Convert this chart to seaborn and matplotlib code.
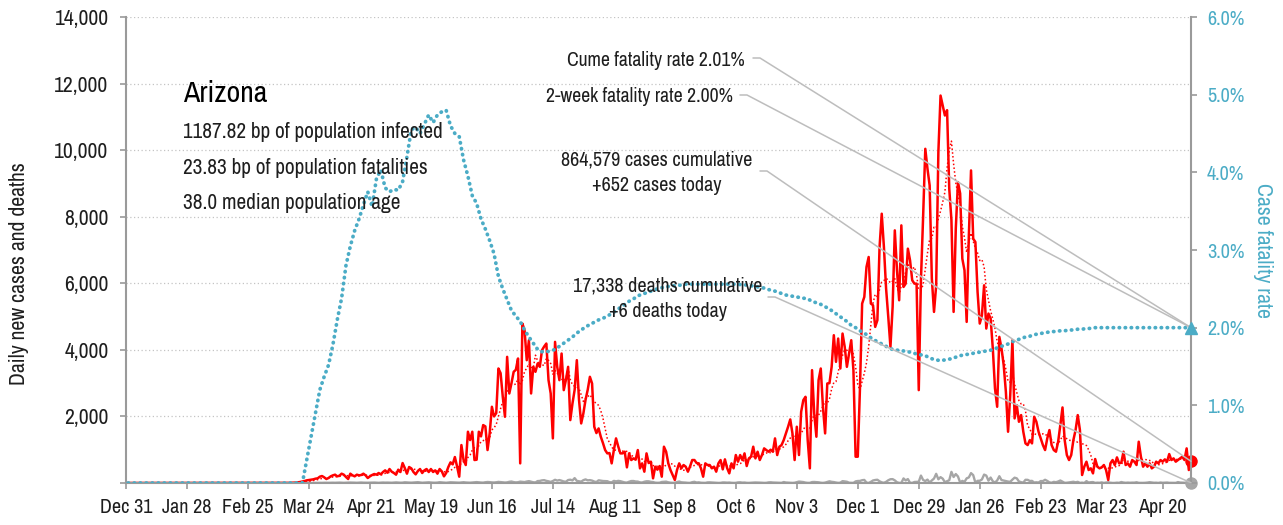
import matplotlib
matplotlib.use("Agg")
import matplotlib.pyplot as plt
import matplotlib.dates as mdates
import matplotlib.ticker as mticker
import pandas as pd
import seaborn as sns

# daily new cases, one list per month (Dec 31 2019 .. May 3 2021)
cases_2019_12 = [0]
cases_2020_01 = [0] * 31
cases_2020_02 = [0] * 29
cases_2020_03 = [0] * 14 + [3, 5, 8, 12, 20, 30, 45, 60, 80, 90,
                            100, 110, 130, 140, 190, 210, 170]
cases_2020_04 = [120, 150, 200, 230, 250, 200, 220, 280, 250, 180,
                 120, 280, 230, 200, 250, 230, 240, 280, 230, 150,
                 200, 240, 270, 250, 300, 260, 330, 380, 310, 420]
cases_2020_05 = [340, 300, 250, 400, 330, 600, 450, 280, 480, 440,
                 330, 260, 360, 420, 300, 380, 420, 330, 420, 330,
                 380, 280, 420, 350, 200, 300, 480, 620, 560, 780, 500]
cases_2020_06 = [190, 1140, 690, 540, 1540, 1290, 1540, 690, 700, 1540,
                 1400, 1740, 1700, 990, 1500, 2290, 2000, 2100, 3440, 3300,
                 2590, 1990, 3790, 2690, 3000, 3340, 3400, 3740, 590, 4790]
cases_2020_07 = [4590, 3690, 4290, 2690, 3490, 3340, 3590, 3490, 3990, 4100,
                 4190, 3090, 2690, 1340, 4240, 3490, 3090, 3890, 2790, 3100,
                 3490, 1890, 2390, 2800, 3690, 2500, 1790, 2090, 2500, 2800, 3190]
cases_2020_08 = [2990, 1690, 1500, 1640, 1390, 1200, 990, 890, 900, 590,
                 990, 1340, 1100, 890, 890, 940, 470, 890, 690, 740,
                 700, 990, 440, 590, 340, 890, 600, 640, 140, 490, 400]
cases_2020_09 = [510, 190, 1090, 940, 590, 390, 240, 90, 390, 590,
                 440, 540, 490, 340, 500, 690, 690, 600, 590, 440,
                 190, 590, 540, 540, 440, 490, 340, 590, 690, 410]
cases_2020_10 = [710, 450, 290, 590, 440, 840, 640, 840, 690, 890,
                 510, 740, 790, 1090, 740, 940, 690, 840, 1040, 990,
                 940, 1000, 940, 1340, 840, 1090, 1140, 1290, 1490, 1690, 1910]
cases_2020_11 = [1490, 690, 1690, 840, 2140, 2490, 2590, 1290, 440, 3390,
                 2090, 1390, 3090, 3440, 2290, 1490, 2990, 3000, 3490, 4440,
                 3640, 4340, 3440, 4490, 4090, 3490, 3890, 4290, 3390, 790]
cases_2020_12 = [790, 2840, 5390, 5590, 6490, 6790, 5390, 5340, 4690, 4890,
                 7090, 8090, 7090, 5840, 4990, 4090, 5290, 7590, 6390, 5490,
                 7740, 5890, 5990, 7040, 6690, 6090, 5990, 5990, 2790, 6090, 8000]
cases_2021_01 = [10040, 9440, 8940, 6140, 5140, 5940, 9940, 11640, 11340, 11040,
                 11200, 8840, 7900, 5140, 7640, 9040, 8700, 6740, 6390, 4840,
                 7440, 9390, 7340, 7240, 5740, 4790, 5040, 5940, 4640, 5090, 4940]
cases_2021_02 = [4040, 2840, 2290, 4390, 4040, 3540, 2740, 1540, 2640, 4290,
                 1940, 2340, 1840, 2040, 1540, 1190, 1140, 1290, 1190, 1990,
                 1840, 1540, 1340, 1140, 990, 1340, 1590, 1140]
cases_2021_03 = [990, 940, 1240, 1740, 2270, 1290, 840, 690, 840, 1290,
                 1590, 2040, 1590, 240, 490, 640, 390, 440, 290, 720,
                 490, 440, 470, 540, 390, 90, 590, 690, 540, 770, 590]
cases_2021_04 = [610, 940, 540, 590, 490, 690, 640, 540, 1240, 790,
                 490, 590, 490, 590, 440, 490, 640, 590, 690, 640,
                 710, 640, 870, 690, 740, 640, 690, 740, 790, 690]
cases_2021_05 = [1040, 390, 652]

# daily deaths
deaths_2020_early = [0] * 61
deaths_2020_03 = [0] * 14 + [0, 0, 0, 0, 0, 1, 0, 1, 2, 2, 3, 2, 4, 3, 5, 4, 7]
deaths_2020_04 = [5, 6, 8, 9, 7, 10, 12, 8, 6, 9, 11, 14, 13, 10, 7,
                  12, 15, 10, 9, 8, 11, 16, 14, 9, 6, 12, 15, 11, 13, 10]
deaths_2020_05 = [8, 14, 18, 12, 9, 11, 22, 16, 13, 10, 14, 20, 25, 17, 8, 12,
                  19, 21, 15, 10, 9, 13, 24, 18, 11, 7, 16, 22, 19, 14, 12]
deaths_2020_06 = [10, 18, 24, 16, 12, 9, 15, 20, 27, 19, 14, 11, 23, 30, 26,
                  18, 15, 22, 33, 28, 21, 14, 19, 36, 44, 27, 18, 24, 41, 34]
deaths_2020_07 = [28, 44, 56, 39, 22, 17, 58, 62, 79, 85, 64, 51, 32, 60, 97, 72,
                  88, 69, 45, 38, 89, 99, 78, 147, 64, 52, 41, 85, 108, 79, 86]
deaths_2020_08 = [72, 43, 29, 81, 71, 60, 58, 54, 26, 18, 64, 48, 64, 54, 35, 17,
                  12, 38, 59, 60, 45, 42, 19, 14, 38, 51, 50, 34, 28, 10, 6]
deaths_2020_09 = [8, 31, 35, 41, 20, 9, 4, 6, 28, 44, 21, 17, 12, 5, 3,
                  25, 36, 14, 20, 8, 4, 3, 18, 20, 16, 12, 9, 2, 4, 17]
deaths_2020_10 = [16, 10, 14, 6, 2, 4, 18, 21, 11, 14, 5, 3, 6, 12, 16, 14,
                  11, 8, 3, 5, 18, 22, 15, 12, 7, 4, 4, 29, 15, 12, 9]
deaths_2020_11 = [3, 8, 25, 43, 35, 28, 12, 4, 4, 28, 31, 25, 21, 8, 3,
                  12, 32, 51, 35, 28, 14, 4, 10, 56, 46, 38, 8, 6, 3, 48]
deaths_2020_12 = [60, 62, 84, 92, 13, 1, 34, 76, 90, 98, 51, 20, 7, 35, 82, 113,
                  116, 79, 22, 3, 4, 137, 77, 118, 7, 3, 30, 33, 38, 223, 92]
deaths_2021_01 = [58, 102, 12, 77, 134, 276, 111, 176, 131, 24, 53, 84, 335, 180, 269, 196,
                  17, 63, 35, 140, 168, 297, 237, 10, 65, 66, 106, 253, 223, 70, 164]
deaths_2021_02 = [52, 16, 75, 204, 88, 72, 58, 43, 36, 102, 160, 140, 46, 25,
                  12, 96, 95, 60, 64, 13, 22, 13, 59, 57, 97, 63, 19, 8]
deaths_2021_03 = [34, 24, 45, 75, 39, 5, 8, 19, 27, 37, 21, 35, 3, 11, 0, 56,
                  13, 24, 28, 3, 10, 6, 18, 2, 14, 19, 8, 1, 2, 10, 5]
deaths_2021_04 = [29, 14, 6, 12, 7, 11, 10, 23, 4, 3, 3, 6, 13, 24, 14,
                  7, 9, 2, 15, 6, 10, 14, 5, 4, 6, 3, 27, 13, 10, 9]
deaths_2021_05 = [4, 2, 6]

# cumulative case fatality rate (%), every second day from Jan 1 2020
cfr_2020_q1 = [0.0] * 41
cfr_2020_spring = [0.3, 0.6, 0.9, 1.2, 1.37, 1.52, 1.78, 2.1, 2.38, 2.8,
                   3.05, 3.25, 3.4, 3.58, 3.75, 3.56, 3.92, 4.03, 3.8, 3.75,
                   3.78, 3.77, 3.88, 4.2, 4.55, 4.58, 4.5, 4.62, 4.74, 4.64,
                   4.74, 4.78, 4.8, 4.6, 4.5, 4.46, 4.16, 3.95, 3.7, 3.6]
cfr_2020_summer = [3.4, 3.27, 3.12, 2.95, 2.66, 2.5, 2.36, 2.22, 2.15, 2.08,
                   1.97, 1.88, 1.8, 1.72, 1.69, 1.69, 1.7, 1.72, 1.76, 1.8,
                   1.84, 1.88, 1.93, 1.97, 2.01, 2.04, 2.07, 2.1, 2.12, 2.15,
                   2.18, 2.22, 2.26, 2.3, 2.34, 2.37, 2.41, 2.43, 2.45, 2.47]
cfr_2020_autumn = [2.49, 2.51, 2.52, 2.53, 2.54, 2.54, 2.55, 2.56, 2.56, 2.56,
                   2.56, 2.56, 2.56, 2.56, 2.56, 2.56, 2.56, 2.56, 2.56, 2.56,
                   2.55, 2.55, 2.54, 2.53, 2.52, 2.51, 2.49, 2.48, 2.46, 2.44,
                   2.42, 2.41, 2.4, 2.39, 2.38, 2.37, 2.34, 2.32, 2.3, 2.27]
cfr_2020_winter = [2.24, 2.2, 2.16, 2.12, 2.08, 2.03, 2.0, 1.96, 1.93, 1.89,
                   1.85, 1.82, 1.79, 1.76, 1.73, 1.71, 1.71, 1.7, 1.69, 1.68,
                   1.66, 1.65, 1.64, 1.61, 1.59, 1.58, 1.58, 1.59, 1.6, 1.62,
                   1.64, 1.65, 1.66, 1.67, 1.68, 1.69, 1.7, 1.71, 1.73, 1.75]
cfr_2021 = [1.77, 1.79, 1.82, 1.84, 1.86, 1.88, 1.89, 1.91, 1.92, 1.93,
            1.94, 1.95, 1.95, 1.96, 1.96, 1.97, 1.97, 1.98, 1.98, 1.99,
            1.99, 2.0, 2.0, 2.0, 2.0, 2.0, 2.0, 2.0, 2.0, 2.0,
            2.0, 2.0, 2.0, 2.0, 2.0, 2.0, 2.0, 2.0, 2.0, 2.0,
            2.0, 2.0, 2.0, 2.0]

state = "Arizona"
info_lines = ["1187.82 bp of population infected",
              "23.83 bp of population fatalities",
              "38.0 median population age"]
cume_label = "Cume fatality rate 2.01%"
week_label = "2-week fatality rate 2.00%"
cases_label = ["864,579 cases cumulative", "+652 cases today"]
deaths_label = ["17,338 deaths cumulative", "+6 deaths today"]

cases = (cases_2019_12 + cases_2020_01 + cases_2020_02 + cases_2020_03 + cases_2020_04
         + cases_2020_05 + cases_2020_06 + cases_2020_07 + cases_2020_08 + cases_2020_09
         + cases_2020_10 + cases_2020_11 + cases_2020_12 + cases_2021_01 + cases_2021_02
         + cases_2021_03 + cases_2021_04 + cases_2021_05)
deaths = (deaths_2020_early + deaths_2020_03 + deaths_2020_04 + deaths_2020_05
          + deaths_2020_06 + deaths_2020_07 + deaths_2020_08 + deaths_2020_09
          + deaths_2020_10 + deaths_2020_11 + deaths_2020_12 + deaths_2021_01
          + deaths_2021_02 + deaths_2021_03 + deaths_2021_04 + deaths_2021_05)
cfr = cfr_2020_q1 + cfr_2020_spring + cfr_2020_summer + cfr_2020_autumn + cfr_2020_winter + cfr_2021

df = pd.DataFrame({"date": pd.date_range("2019-12-31", periods=len(cases), freq="D"),
                   "cases": cases, "deaths": deaths})
df["cases_avg"] = df["cases"].rolling(7, min_periods=1).mean()
rate = pd.DataFrame({"date": pd.date_range("2020-01-01", periods=len(cfr), freq="2D"),
                     "cfr": cfr})

RED = "#ff0000"
TEAL = "#4bacc6"
GREY = "#a6a6a6"
AXIS = "#9a9a9a"
INK = "#1e1e1e"
LEAD = "#bdbdbd"
FS = 14.5

sns.set_style("ticks")
plt.rcParams["font.family"] = ["Archivo Narrow", "DejaVu Sans"]
plt.rcParams["font.size"] = FS

W, H = 1283, 525
fig = plt.figure(figsize=(W / 100, H / 100), dpi=100)
ax = fig.add_axes([126 / W, 42 / H, 1065 / W, 466 / H])
ax2 = ax.twinx()

sns.lineplot(data=df, x="date", y="deaths", ax=ax, color=GREY, lw=1.7, estimator=None)
sns.lineplot(data=df, x="date", y="cases", ax=ax, color=RED, lw=1.8, estimator=None)
sns.lineplot(data=df, x="date", y="cases_avg", ax=ax, color=RED, lw=1.1,
             linestyle=(0, (1, 1.5)), estimator=None)
sns.lineplot(data=rate, x="date", y="cfr", ax=ax2, color=TEAL, lw=2.7,
             linestyle=(0, (0.1, 1.5)), dash_capstyle="round", estimator=None)

last = df.iloc[-1]
ax.plot(last["date"], last["cases"], "o", color=RED, ms=8, clip_on=False, zorder=6)
ax.plot(last["date"], last["deaths"], "o", color=GREY, ms=8, clip_on=False, zorder=6)
ax2.plot(rate["date"].iloc[-1], rate["cfr"].iloc[-1], "^", color=TEAL, ms=9,
         clip_on=False, zorder=6)

ax.set_xlim(df["date"].iloc[0], df["date"].iloc[-1])
ax.set_ylim(0, 14000)
ax2.set_ylim(0, 6)

ax.set_xticks(pd.date_range(df["date"].iloc[0], df["date"].iloc[-1], freq="28D"))
ax.xaxis.set_major_formatter(mticker.FuncFormatter(
    lambda v, p: "{0:%b} {0.day}".format(mdates.num2date(v))))
ax.set_yticks(range(0, 14001, 2000))
ax.yaxis.set_major_formatter(mticker.FuncFormatter(lambda v, p: "" if v == 0 else f"{v:,.0f}"))
ax2.set_yticks(range(0, 7))
ax2.yaxis.set_major_formatter(mticker.FuncFormatter(lambda v, p: f"{v:.1f}%"))

for s in ("top", "right"):
    ax.spines[s].set_visible(False)
for s in ("top", "left", "bottom"):
    ax2.spines[s].set_visible(False)
for sp in (ax.spines["left"], ax.spines["bottom"], ax2.spines["right"]):
    sp.set_color(AXIS)
    sp.set_linewidth(1.5)

ax.tick_params(axis="both", direction="out", length=4.5, width=1.2, color=AXIS,
               labelcolor=INK, labelsize=FS)
ax.tick_params(axis="x", pad=6)
ax.tick_params(axis="y", pad=8, labelsize=15.5)
ax2.tick_params(axis="y", direction="out", length=4.5, width=1.2, color=AXIS,
                labelcolor=TEAL, labelsize=FS, pad=7)

ax.grid(axis="y", linestyle=(0, (1, 2)), color="#c4c4c4", lw=0.9)
ax.set_axisbelow(True)

ax.set_xlabel("")
ax.set_ylabel("Daily new cases and deaths", fontsize=15.7, color=INK)
ax.yaxis.set_label_coords(-0.091, 0.449)
ax2.set_ylabel("Case fatality rate", fontsize=15.7, color=TEAL, rotation=270, va="bottom")
ax2.yaxis.set_label_coords(1.058, 0.5)


def fpos(x, y):
    return x / W, 1 - y / H


fig.text(*fpos(183, 102), state, fontsize=21.5, color="black", va="baseline")
for y, line in zip((138, 174, 209), info_lines):
    fig.text(*fpos(183, y), line, fontsize=15.3, color=INK, va="baseline")

fig.text(*fpos(745, 66), cume_label, fontsize=14.2, color=INK, ha="right", va="baseline")
fig.text(*fpos(733, 102), week_label, fontsize=14.2, color=INK, ha="right", va="baseline")
fig.text(*fpos(657, 166), cases_label[0], fontsize=FS, color=INK, ha="center", va="baseline")
fig.text(*fpos(657, 191), cases_label[1], fontsize=FS, color=INK, ha="center", va="baseline")
fig.text(*fpos(668, 292), deaths_label[0], fontsize=FS, color=INK, ha="center", va="baseline")
fig.text(*fpos(668, 317), deaths_label[1], fontsize=FS, color=INK, ha="center", va="baseline")

end_x = mdates.date2num(last["date"])
leaders = [
    ((753, 58), ax2.transData, rate["cfr"].iloc[-1]),
    ((740, 95), ax2.transData, rate["cfr"].iloc[-1]),
    ((760, 171), ax.transData, last["cases"]),
    ((768, 297), ax.transData, last["deaths"]),
]
for (sx, sy), tr, yv in leaders:
    ax2.annotate("", xy=(end_x, yv), xycoords=tr, xytext=(sx, H - sy),
                 textcoords="figure pixels", annotation_clip=False,
                 arrowprops=dict(arrowstyle="-", color=LEAD, lw=1.1, shrinkA=0, shrinkB=0,
                                 connectionstyle="arc,angleA=0,angleB=0,armA=7,armB=0,rad=0"))

fig.savefig("out.png", dpi=100)
